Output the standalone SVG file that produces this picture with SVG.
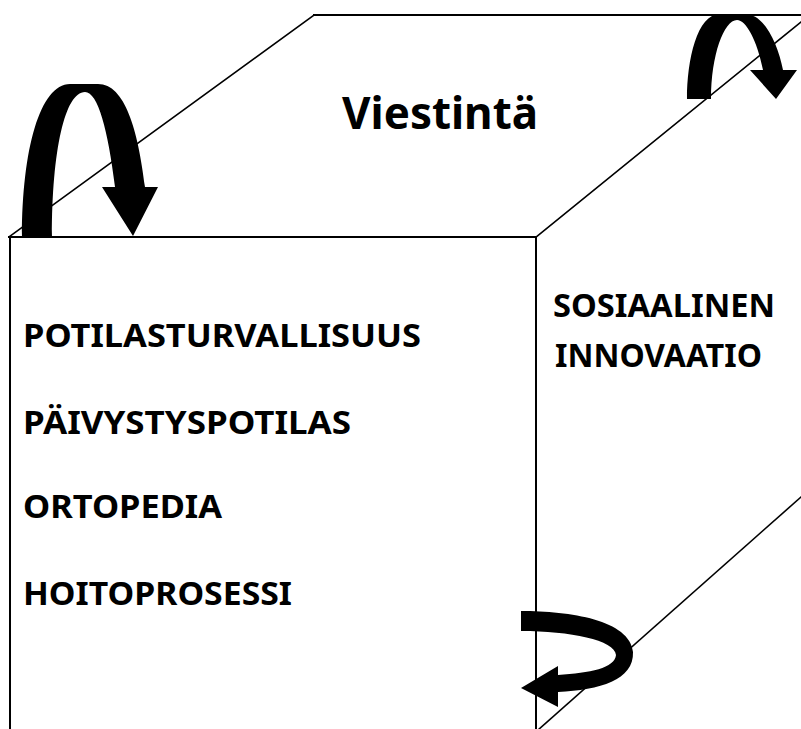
<svg xmlns="http://www.w3.org/2000/svg" width="801" height="729" viewBox="0 0 801 729">
<style>
.edge{stroke:#000;fill:none;stroke-linecap:square}
.thin{stroke-width:1.6}
.thick{stroke-width:2}
.lbl{font-family:"Noto Sans","DejaVu Sans",sans-serif;font-weight:bold;fill:#000}
.arrow{fill:#000;stroke:none}
</style>
<rect width="801" height="729" fill="#fff"/>
<g id="top-face">
<line class="edge thick" x1="314" y1="15" x2="801" y2="15"/>
<line class="edge thin" x1="314" y1="15" x2="9" y2="237"/>
<line class="edge thin" x1="536" y1="237" x2="801" y2="22"/>
<text class="lbl" x="342" y="128.5" font-size="45" textLength="196" lengthAdjust="spacingAndGlyphs">Viestintä</text>
</g>
<g id="front-face">
<line class="edge thick" x1="9" y1="237" x2="536" y2="237"/>
<line class="edge thick" x1="10" y1="237" x2="10" y2="729"/>
<line class="edge thick" x1="536" y1="237" x2="536" y2="729"/>
<text class="lbl" x="23" y="347" font-size="33" textLength="398" lengthAdjust="spacingAndGlyphs">POTILASTURVALLISUUS</text>
<text class="lbl" x="23" y="434" font-size="33" textLength="328" lengthAdjust="spacingAndGlyphs">PÄIVYSTYSPOTILAS</text>
<text class="lbl" x="23" y="518" font-size="33" textLength="199" lengthAdjust="spacingAndGlyphs">ORTOPEDIA</text>
<text class="lbl" x="23" y="605" font-size="33" textLength="269" lengthAdjust="spacingAndGlyphs">HOITOPROSESSI</text>
</g>
<g id="side-face">
<line class="edge thin" x1="538" y1="730" x2="801" y2="497"/>
<text class="lbl" x="553" y="317" font-size="33" textLength="222" lengthAdjust="spacingAndGlyphs">SOSIAALINEN</text>
<text class="lbl" x="555" y="367" font-size="33" textLength="207" lengthAdjust="spacingAndGlyphs">INNOVAATIO</text>
</g>
<g id="connectors">
<path class="arrow" d="M22,237 C22,150 40,84 70,84 L98,84 C125,84 138,130 145,187 L158,187 L133,236 L102,187 L115,187 C108,130 98,92 85,92 C65,92 52,150 52,237 Z"/>
<path class="arrow" d="M687,99 C687,60 697,14 720,14 L745,14 C765,14 778,45 783,70 L797,70 L776,99 L750,70 L763,70 C757,40 746,20 737,20 C724,20 711,55 711,99 Z"/>
<path class="arrow" d="M521,611 C570,611 630,620 633,652 C634,680 600,690 558,692 L558,707 L521,688 L558,666 L558,675 C590,673 615,668 616,655 C615,640 570,631 521,631 Z"/>
</g>
</svg>
